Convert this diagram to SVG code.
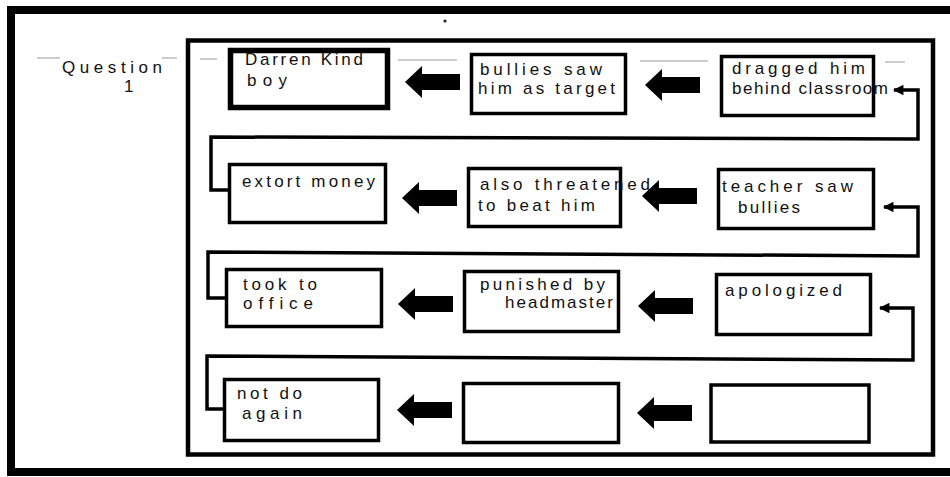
<svg xmlns="http://www.w3.org/2000/svg" width="950" height="477" viewBox="0 0 950 477">
  <defs>
    <style>
      .box { fill: #fff; stroke: #000; stroke-width: 3.5; }
      .thick { stroke-width: 5.5; }
      .t { font-family: "Liberation Sans", Arial, sans-serif; font-size: 17px; fill: #111; }
      .conn { fill: none; stroke: #000; stroke-width: 3.5; stroke-linejoin: miter; }
      .rule { stroke: #bbb; stroke-width: 1.5; }
      .blk { fill: #000; }
    </style>
    <marker id="ah" viewBox="0 0 10 10" refX="9" refY="5" markerWidth="3.2" markerHeight="3" orient="auto" markerUnits="strokeWidth">
      <path d="M0,0 L10,5 L0,10 z" fill="#000"/>
    </marker>
    <path id="bigArrow" d="M0,0 L17,-16 L17,-8 L55,-8 L55,8 L17,8 L17,16 z"/>
  </defs>

  <rect width="950" height="477" fill="#fff"/>

  <!-- outer page frame -->
  <path d="M950,10 L11,10 L11,472 L950,472" fill="none" stroke="#000" stroke-width="8"/>
  <circle cx="445" cy="21" r="1.6" fill="#222"/>

  <!-- faint ruled line -->
  <g id="ruled">
    <line class="rule" x1="37" y1="58" x2="60" y2="58"/>
    <line class="rule" x1="162" y1="58" x2="177" y2="58"/>
    <line class="rule" x1="200" y1="59" x2="217" y2="59"/>
    <line class="rule" x1="398" y1="60" x2="457" y2="60"/>
    <line class="rule" x1="640" y1="61" x2="708" y2="61"/>
    <line class="rule" x1="885" y1="62" x2="905" y2="62"/>
  </g>

  <g id="question-label">
    <text class="t" x="62" y="73" font-size="18" textLength="100" lengthAdjust="spacing">Question</text>
    <text class="t" x="124" y="92" font-size="18">1</text>
  </g>

  <!-- inner frame -->
  <rect x="188" y="40.5" width="745" height="414" fill="none" stroke="#000" stroke-width="4.5"/>

  <g id="connectors">
    <polyline class="conn" points="229,190 211,190 211,137 918,139 918,90 894,90" marker-end="url(#ah)"/>
    <polyline class="conn" points="227,298 208,298 208,252 918,256 918,207 884,207" marker-end="url(#ah)"/>
    <polyline class="conn" points="224,409 207,409 207,356 913,360 913,308 880,308" marker-end="url(#ah)"/>
    <use href="#bigArrow" class="blk" x="405" y="82"/>
    <use href="#bigArrow" class="blk" x="645" y="85"/>
    <use href="#bigArrow" class="blk" x="402" y="198"/>
    <use href="#bigArrow" class="blk" x="642" y="196"/>
    <use href="#bigArrow" class="blk" x="398" y="304"/>
    <use href="#bigArrow" class="blk" x="638" y="306"/>
    <use href="#bigArrow" class="blk" x="397" y="410"/>
    <use href="#bigArrow" class="blk" x="637" y="413"/>
  </g>

  <!-- row 1 -->
  <g id="n-darren">
    <rect class="box thick" x="230.5" y="50.5" width="157" height="57"/>
    <text class="t" x="245" y="65" textLength="118" lengthAdjust="spacing">Darren Kind</text>
    <text class="t" x="247" y="86" textLength="40" lengthAdjust="spacing">boy</text>
  </g>
  <g id="n-bullies">
    <rect class="box" x="471.5" y="54.5" width="154" height="59"/>
    <text class="t" x="480" y="75" font-size="16" textLength="122" lengthAdjust="spacing">bullies saw</text>
    <text class="t" x="478" y="94" font-size="16" textLength="137" lengthAdjust="spacing">him as target</text>
  </g>
  <g id="n-dragged">
    <rect class="box" x="721.5" y="56.5" width="152" height="59"/>
    <text class="t" x="732" y="74" textLength="133" lengthAdjust="spacing">dragged him</text>
    <text class="t" x="732" y="94" textLength="156" lengthAdjust="spacing">behind classroom</text>
  </g>

  <!-- row 2 -->
  <g id="n-extort">
    <rect class="box" x="229.5" y="164.5" width="156" height="58"/>
    <text class="t" x="242" y="187" textLength="133" lengthAdjust="spacing">extort money</text>
  </g>
  <g id="n-threatened">
    <rect class="box" x="468.5" y="168.5" width="152" height="58"/>
    <text class="t" x="480" y="190" textLength="170" lengthAdjust="spacing">also threatened</text>
    <text class="t" x="478" y="211" textLength="117" lengthAdjust="spacing">to beat him</text>
  </g>
  <g id="n-teacher">
    <rect class="box" x="718.5" y="169.5" width="155" height="59"/>
    <text class="t" x="722" y="192" textLength="131" lengthAdjust="spacing">teacher saw</text>
    <text class="t" x="738" y="213" textLength="62" lengthAdjust="spacing">bullies</text>
  </g>

  <!-- row 3 -->
  <g id="n-took">
    <rect class="box" x="226.5" y="269.5" width="155" height="57"/>
    <text class="t" x="243" y="290" textLength="74" lengthAdjust="spacing">took to</text>
    <text class="t" x="243" y="309" textLength="70" lengthAdjust="spacing">office</text>
  </g>
  <g id="n-punished">
    <rect class="box" x="464.5" y="271.5" width="154" height="60"/>
    <text class="t" x="480" y="290" textLength="125" lengthAdjust="spacing">punished by</text>
    <text class="t" x="505" y="308" textLength="108" lengthAdjust="spacing">headmaster</text>
  </g>
  <g id="n-apologized">
    <rect class="box" x="716.5" y="274.5" width="154" height="60"/>
    <text class="t" x="725" y="296" textLength="117" lengthAdjust="spacing">apologized</text>
  </g>

  <!-- row 4 -->
  <g id="n-notdo">
    <rect class="box" x="224.5" y="379.5" width="154" height="61"/>
    <text class="t" x="237" y="399" textLength="65" lengthAdjust="spacing">not do</text>
    <text class="t" x="242" y="419" textLength="60" lengthAdjust="spacing">again</text>
  </g>
  <g id="n-empty1">
    <rect class="box" x="463.5" y="383.5" width="155" height="59"/>
  </g>
  <g id="n-empty2">
    <rect class="box" x="711" y="385" width="158" height="57" stroke-width="6"/>
  </g>
</svg>
